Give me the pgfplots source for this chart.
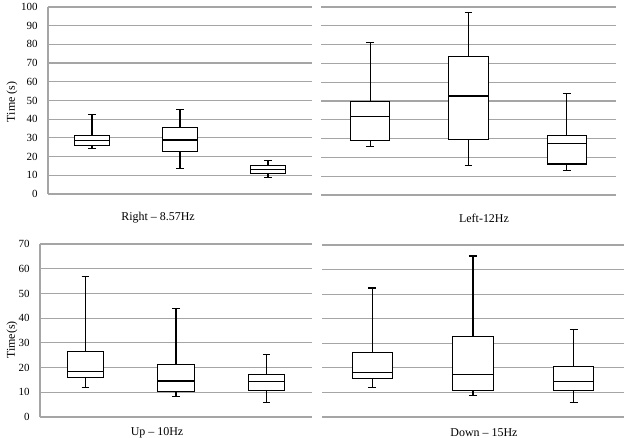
\documentclass[border=0pt]{standalone}
\usepackage{pgfplots}
\pgfplotsset{compat=1.18}
\usepgfplotslibrary{statistics}
\usepackage{fontspec}
\setmainfont{Liberation Serif}

\definecolor{gridgray}{RGB}{165,165,165}

\pgfplotsset{
  panel/.style={
    scale only axis,
    xmin=0, xmax=3,
    xtick=\empty,
    ymin=0,
    ymajorgrids,
    grid style={gridgray, line width=1.2pt},
    axis lines*=left,
    x axis line style={draw=none},
    y axis line style={gridgray, line width=1.2pt, -},
    major tick length=3pt,
    tick style={gridgray, line width=1.2pt},
    yticklabel style={font=\fontsize{11}{13}\selectfont, xshift=-7bp},
    /pgf/number format/assume math mode=true,
    boxplot/draw direction=y,
    boxplot/box extend=0.4,
    boxplot/whisker extend=0.08,
  },
  nolabels/.style={
    yticklabels={},
    y axis line style={draw=none},
    major tick length=0pt,
  },
  bx/.style={draw=black, solid, line width=1.2pt, fill=white},
}

\begin{document}
\begin{tikzpicture}
\useasboundingbox (0bp,0bp) rectangle (628bp,438bp);

% Right - 8.57 Hz
\begin{axis}[panel, at={(48bp,244bp)}, anchor=south west,
  width=264bp, height=187bp, ymax=100, ytick={0,10,...,100}]
  \addplot[bx, boxplot prepared={draw position=0.5, lower whisker=24.5,
    lower quartile=25.9, median=28.8, upper quartile=31.3, upper whisker=42.7}]
    coordinates {};
  \addplot[bx, boxplot prepared={draw position=1.5, lower whisker=13.6,
    lower quartile=22.7, median=28.9, upper quartile=35.4, upper whisker=45.0}]
    coordinates {};
  \addplot[bx, boxplot prepared={draw position=2.5, lower whisker=8.8,
    lower quartile=11.1, median=13.2, upper quartile=15.4, upper whisker=17.9}]
    coordinates {};
\end{axis}

% Left - 12 Hz
\begin{axis}[panel, nolabels, at={(321bp,243bp)}, anchor=south west,
  width=295bp, height=188bp, ymax=100, ytick={0,10,...,100}]
  \addplot[bx, boxplot prepared={draw position=0.5, lower whisker=26.0,
    lower quartile=28.8, median=41.8, upper quartile=49.9, upper whisker=81.1}]
    coordinates {};
  \addplot[bx, boxplot prepared={draw position=1.5, lower whisker=15.9,
    lower quartile=29.6, median=52.7, upper quartile=73.6, upper whisker=97.2}]
    coordinates {};
  \addplot[bx, boxplot prepared={draw position=2.5, lower whisker=12.9,
    lower quartile=16.5, median=27.4, upper quartile=31.5, upper whisker=53.8}]
    coordinates {};
\end{axis}

% Up - 10 Hz
\begin{axis}[panel, at={(40bp,21bp)}, anchor=south west,
  width=272bp, height=173bp, ymax=70, ytick={0,10,...,70}]
  \addplot[bx, boxplot prepared={draw position=0.5, lower whisker=11.9,
    lower quartile=16.0, median=18.4, upper quartile=26.4, upper whisker=56.7}]
    coordinates {};
  \addplot[bx, boxplot prepared={draw position=1.5, lower whisker=8.4,
    lower quartile=10.4, median=14.6, upper quartile=21.4, upper whisker=44.0}]
    coordinates {};
  \addplot[bx, boxplot prepared={draw position=2.5, lower whisker=5.8,
    lower quartile=10.7, median=14.5, upper quartile=17.2, upper whisker=25.2}]
    coordinates {};
\end{axis}

% Down - 15 Hz
\begin{axis}[panel, nolabels, at={(322bp,21bp)}, anchor=south west,
  width=302bp, height=172bp, ymax=70, ytick={0,10,...,70}]
  \addplot[bx, boxplot prepared={draw position=0.5, lower whisker=11.9,
    lower quartile=15.7, median=18.0, upper quartile=26.4, upper whisker=52.5}]
    coordinates {};
  \addplot[bx, boxplot prepared={draw position=1.5, lower whisker=8.9,
    lower quartile=10.8, median=17.3, upper quartile=32.6, upper whisker=65.5}]
    coordinates {};
  \addplot[bx, boxplot prepared={draw position=2.5, lower whisker=5.8,
    lower quartile=10.7, median=14.4, upper quartile=20.7, upper whisker=35.7}]
    coordinates {};
\end{axis}

% panel captions and axis titles
\begin{scope}[every node/.style={font=\fontsize{12}{14}\selectfont, inner sep=0pt}]
  \node at (158bp,220bp) {Right -- 8.57Hz};
  \node at (484bp,220bp) {Left-12Hz};
  \node at (157bp,5bp) {Up -- 10Hz};
  \node at (484bp,5bp) {Down -- 15Hz};
  \node[rotate=90] at (12bp,336bp) {Time (s)};
  \node[rotate=90] at (12bp,98bp) {Time(s)};
\end{scope}
\end{tikzpicture}
\end{document}
